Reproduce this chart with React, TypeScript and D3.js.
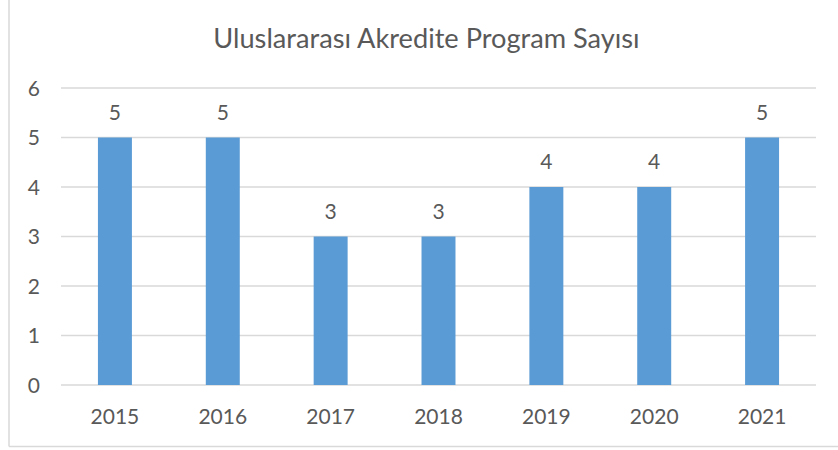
import React from "react";
import * as d3 from "d3";

const categories = ["2015", "2016", "2017", "2018", "2019", "2020", "2021"];
const values = [5, 5, 3, 3, 4, 4, 5];
const yTicks = [0, 1, 2, 3, 4, 5, 6];
const title = "Uluslararası Akredite Program Sayısı";

const W = 838;
const H = 450;
const plot = { left: 61, right: 816, top: 88, bottom: 385 };
const font = "Lato, 'Open Sans', sans-serif";
const textColor = "#595959";

export default function App() {
  const x = d3
    .scaleBand<string>()
    .domain(categories)
    .range([plot.left, plot.right])
    .paddingInner(0)
    .paddingOuter(0);
  const y = d3.scaleLinear().domain([0, 6]).range([plot.bottom, plot.top]);
  const barW = x.bandwidth() * 0.315;

  return (
    <svg
      width={W}
      height={H}
      style={{ position: "absolute", left: 0, top: 0, background: "#fff" }}
    >
      <rect x={0} y={0} width={W} height={H} fill="#fff" />
      <line x1={9} y1={-2} x2={9} y2={446.5} stroke="#D9D9D9" strokeWidth={1.5} />
      <line x1={9} y1={446.5} x2={W + 2} y2={446.5} stroke="#D9D9D9" strokeWidth={1.5} />
      <text
        x={426.5}
        y={47.5}
        textAnchor="middle"
        fontFamily={font}
        fontSize={27.2}
        fill={textColor}
      >
        {title}
      </text>
      {yTicks.map((t) => (
        <g key={t}>
          <line
            x1={plot.left}
            x2={plot.right}
            y1={y(t)}
            y2={y(t)}
            stroke="#D9D9D9"
            strokeWidth={1.3}
          />
          <text
            x={40}
            y={y(t)}
            dy="0.36em"
            textAnchor="end"
            fontFamily={font}
            fontSize={21}
            fill={textColor}
          >
            {t}
          </text>
        </g>
      ))}
      {categories.map((c, i) => {
        const cx = (x(c) as number) + x.bandwidth() / 2;
        return (
          <g key={c}>
            <rect
              x={cx - barW / 2}
              y={y(values[i])}
              width={barW}
              height={y(0) - y(values[i])}
              fill="#5B9BD5"
            />
            <text
              x={cx}
              y={y(values[i]) - 18}
              textAnchor="middle"
              fontFamily={font}
              fontSize={21}
              fill={textColor}
            >
              {values[i]}
            </text>
            <text
              x={cx}
              y={424}
              textAnchor="middle"
              fontFamily={font}
              fontSize={21}
              fill={textColor}
            >
              {c}
            </text>
          </g>
        );
      })}
    </svg>
  );
}
